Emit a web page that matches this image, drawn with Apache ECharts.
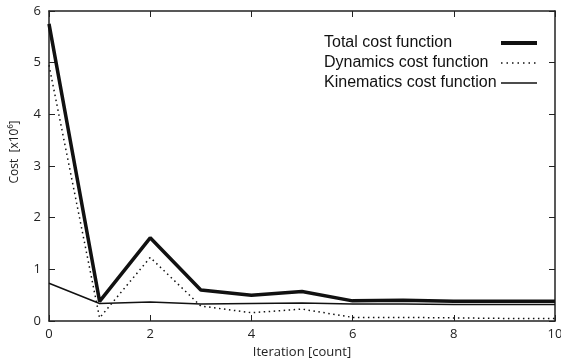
<!DOCTYPE html>
<html><head><meta charset="utf-8">
<script src="https://cdn.jsdelivr.net/npm/echarts@6/dist/echarts.min.js"></script>
<style>html,body{margin:0;padding:0;background:#fff}#c{width:561px;height:358px}</style>
</head><body><div id="c"></div>
<script>
const iterations = [0,1,2,3,4,5,6,7,8,9,10];
const totalCost = [5.75,0.38,1.61,0.60,0.50,0.57,0.39,0.40,0.38,0.38,0.38];
const dynamicsCost = [4.95,0.06,1.23,0.29,0.16,0.23,0.07,0.07,0.06,0.05,0.05];
const kinematicsCost = [0.73,0.34,0.37,0.33,0.34,0.35,0.33,0.33,0.32,0.32,0.32];
const seriesNames = ['Total cost function','Dynamics cost function','Kinematics cost function'];

const axisFont = 'Open Sans, DejaVu Sans, sans-serif';
const legendFont = 'Liberation Sans, Arial, sans-serif';
const axisColor = '#222';
const chart = echarts.init(document.getElementById('c'), null, {renderer:'canvas'});
const pairs = arr => arr.map((v,i)=>[iterations[i], v]);
const baseX = {
  type:'value', min:0, max:10, interval:2,
  axisLine:{onZero:false, lineStyle:{color:axisColor, width:1.5}},
  axisTick:{inside:true, length:6, lineStyle:{color:axisColor, width:1}},
  splitLine:{show:false}
};
const baseY = {
  type:'value', min:0, max:6, interval:1,
  axisLine:{onZero:false, lineStyle:{color:axisColor, width:1.5}},
  axisTick:{inside:true, length:6, lineStyle:{color:axisColor, width:1}},
  splitLine:{show:false}
};
chart.setOption({
  animation:false,
  grid:{left:49, right:6, top:11, bottom:37, outerBoundsMode:'none', containLabel:false},
  xAxis:[
    Object.assign({}, baseX, {position:'bottom', name:'Iteration [count]', nameLocation:'middle', nameGap:24,
      nameTextStyle:{fontFamily:axisFont, fontSize:13, color:'#222'},
      axisLabel:{fontFamily:axisFont, fontSize:13, color:'#222', margin:7}}),
    Object.assign({}, baseX, {position:'top', axisLabel:{show:false}})
  ],
  yAxis:[
    Object.assign({}, baseY, {position:'left', name:'Cost  [x10⁶]', nameLocation:'middle', nameGap:28,
      nameTextStyle:{fontFamily:axisFont, fontSize:12, color:'#222', padding:[0,0,0,28]},
      axisLabel:{fontFamily:axisFont, fontSize:13, color:'#222', margin:8}}),
    Object.assign({}, baseY, {position:'right', axisLabel:{show:false}})
  ],
  legend:{
    orient:'vertical', right:22, top:35, padding:0, align:'right', itemGap:4,
    itemWidth:36, itemHeight:14,
    itemStyle:{opacity:0},
    data:[
      {name:seriesNames[0], lineStyle:{width:4}},
      {name:seriesNames[1], lineStyle:{width:1.5, type:[1.5,4]}},
      {name:seriesNames[2], lineStyle:{width:1.5}}
    ],
    formatter: name => '{a|' + name + '}',
    textStyle:{fontFamily:legendFont, fontSize:16, lineHeight:16, color:'#111',
      rich:{a:{width:172, align:'left', fontFamily:legendFont, fontSize:16, lineHeight:16, color:'#111'}}}
  },
  series:[
    {name:seriesNames[0], type:'line', data:pairs(totalCost), symbol:'none', lineStyle:{color:'#111', width:3.5}, itemStyle:{color:'#111'}},
    {name:seriesNames[1], type:'line', data:pairs(dynamicsCost), symbol:'none', lineStyle:{color:'#111', width:1.5, type:[1.5,3.5]}, itemStyle:{color:'#111'}},
    {name:seriesNames[2], type:'line', data:pairs(kinematicsCost), symbol:'none', lineStyle:{color:'#111', width:1.5}, itemStyle:{color:'#111'}}
  ]
});
</script></body></html>
